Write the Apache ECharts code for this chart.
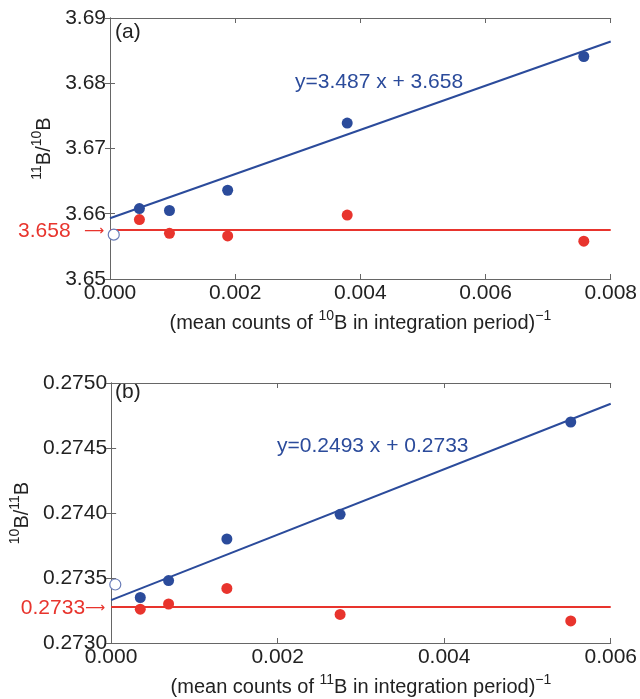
<!DOCTYPE html>
<html>
<head>
<meta charset="utf-8">
<script src="https://cdn.jsdelivr.net/npm/echarts@6/dist/echarts.min.js"></script>
<style>
  html, body { margin: 0; padding: 0; background: #fff; }
  #chart { width: 640px; height: 699px; }
</style>
</head>
<body>
<div id="chart"></div>
<script>
// panel (a): 11B/10B vs 1/counts(10B)
const xA = [0.00047, 0.00095, 0.00188, 0.00379, 0.00757]
const blueA = [3.6608, 3.6605, 3.6636, 3.6739, 3.6841]
const redA = [3.6591, 3.6570, 3.6566, 3.6598, 3.6558]
const openA = [0.00006, 3.6568]
const fitA = [[0, 3.6593], [0.008, 3.6864]]
const levelA = 3.6576

// panel (b): 10B/11B vs 1/counts(11B)
const xB = [0.00035, 0.00069, 0.00139, 0.00275, 0.00552]
const blueB = [0.27335, 0.27348, 0.27380, 0.27399, 0.27470]
const redB = [0.27326, 0.27330, 0.27342, 0.27322, 0.27317]
const openB = [0.00005, 0.27345]
const fitB = [[0, 0.27333], [0.006, 0.27484]]
const levelB = 0.27328

const BLUE = '#2b4b9b'
const RED = '#e8342d'
const FONT = 'Liberation Sans'

const chart = echarts.init(document.getElementById('chart'))

const supRich = {
  b: { fontSize: 20, fontFamily: FONT, color: '#222', verticalAlign: 'bottom', lineHeight: 24 },
  sup: { fontSize: 14, fontFamily: FONT, color: '#222', verticalAlign: 'top', lineHeight: 24, padding: [0, 0, 9, 0] }
}

function xAxes(gridIndex, max, name) {
  return [{
    type: 'value', gridIndex, min: 0, max, interval: 0.002, position: 'bottom',
    axisLine: { lineStyle: { color: '#666' } },
    axisTick: { inside: true, length: 5, lineStyle: { color: '#666' } },
    splitLine: { show: false },
    axisLabel: { fontSize: 21, fontFamily: FONT, color: '#222', margin: 4, formatter: v => v.toFixed(3) },
    name, nameLocation: 'middle', nameGap: 30,
    nameTextStyle: { fontSize: 20, fontFamily: FONT, color: '#222', rich: supRich }
  }, {
    type: 'value', gridIndex, min: 0, max, interval: 0.002, position: 'top',
    axisLine: { lineStyle: { color: '#666' } },
    axisTick: { inside: true, length: 5, lineStyle: { color: '#666' } },
    splitLine: { show: false }, axisLabel: { show: false }
  }]
}

function yAxes(gridIndex, min, max, interval, digits, name, gap) {
  return [{
    type: 'value', gridIndex, min, max, interval, position: 'left',
    axisLine: { lineStyle: { color: '#666' } },
    axisTick: { inside: true, length: 5, lineStyle: { color: '#666' } },
    splitLine: { show: false },
    axisLabel: { fontSize: 21, fontFamily: FONT, color: '#222', margin: 4, formatter: v => v.toFixed(digits) },
    name, nameLocation: 'middle', nameGap: gap, nameRotate: 90,
    nameTextStyle: { fontSize: 20, fontFamily: FONT, color: '#222', rich: supRich }
  }, {
    type: 'value', gridIndex, min, max, interval, position: 'right',
    axisLine: { lineStyle: { color: '#666' } },
    axisTick: { inside: true, length: 5, lineStyle: { color: '#666' } },
    splitLine: { show: false }, axisLabel: { show: false }
  }]
}

function panelSeries(xi, yi, xs, blue, red, open, fit, level, levelText) {
  return [{
    type: 'line', xAxisIndex: xi, yAxisIndex: yi, data: fit,
    symbol: 'none', lineStyle: { color: BLUE, width: 2 }, z: 2, silent: true
  }, {
    type: 'scatter', xAxisIndex: xi, yAxisIndex: yi,
    data: xs.map((x, i) => [x, blue[i]]),
    symbolSize: 11, itemStyle: { color: BLUE, opacity: 1 }, z: 5
  }, {
    type: 'scatter', xAxisIndex: xi, yAxisIndex: yi,
    data: xs.map((x, i) => [x, red[i]]),
    symbolSize: 11, itemStyle: { color: RED, opacity: 1 }, z: 5,
    markLine: {
      silent: true, symbol: 'none', z: 2, precision: 6,
      lineStyle: { color: RED, width: 2, type: 'solid' },
      label: {
        position: 'start', formatter: levelText, distance: 6, padding: [3, 0, 0, 0],
        rich: {
          t: { color: RED, fontSize: 21, fontFamily: FONT },
          a: { color: RED, fontSize: 14, fontFamily: 'DejaVu Sans' }
        }
      },
      data: [{ yAxis: level }]
    }
  }, {
    type: 'scatter', xAxisIndex: xi, yAxisIndex: yi, data: [open],
    symbolSize: 11, itemStyle: { color: '#fff', borderColor: '#6a7db8', borderWidth: 1.2, opacity: 1 }, z: 5
  }]
}

const option = {
  animation: false,
  backgroundColor: '#fff',
  grid: [
    { left: 110, top: 18, width: 502, height: 261 },
    { left: 110, top: 383, width: 502, height: 260 }
  ],
  xAxis: [
    ...xAxes(0, 0.008, '{b|(mean counts of }{sup|10}{b|B in integration period)}{sup|−1}'),
    ...xAxes(1, 0.006, '{b|(mean counts of }{sup|11}{b|B in integration period)}{sup|−1}')
  ],
  yAxis: [
    ...yAxes(0, 3.65, 3.69, 0.01, 2, '{sup|11}{b|B/}{sup|10}{b|B}', 50),
    ...yAxes(1, 0.2730, 0.2750, 0.0005, 4, '{sup|10}{b|B/}{sup|11}{b|B}', 71)
  ],
  series: [
    ...panelSeries(0, 0, xA, blueA, redA, openA, fitA, levelA, '{t|3.658}{a|   ⟶}'),
    ...panelSeries(2, 2, xB, blueB, redB, openB, fitB, levelB, '{t|0.2733}{a|⟶}')
  ],
  graphic: [
    { type: 'text', left: 115, top: 22, style: { text: '(a)', fontSize: 21, fontFamily: FONT, fill: '#222' } },
    { type: 'text', left: 115, top: 382, style: { text: '(b)', fontSize: 21, fontFamily: FONT, fill: '#222' } },
    { type: 'text', left: 295, top: 72, style: { text: 'y=3.487 x + 3.658', fontSize: 21, fontFamily: FONT, fill: BLUE } },
    { type: 'text', left: 277, top: 436, style: { text: 'y=0.2493 x + 0.2733', fontSize: 21, fontFamily: FONT, fill: BLUE } }
  ]
}

chart.setOption(option)
</script>
</body>
</html>
